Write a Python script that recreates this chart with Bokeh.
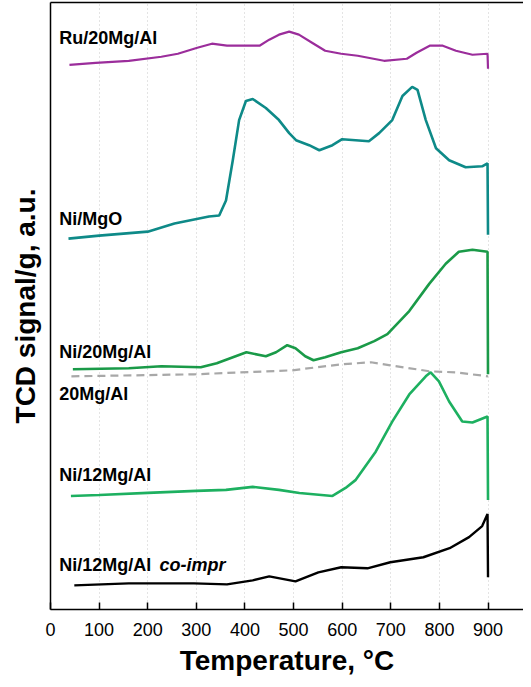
from bokeh.plotting import figure
from bokeh.models import LinearAxis, FixedTicker, Range1d
from bokeh.core.properties import value
from bokeh.embed import file_html
from bokeh.resources import INLINE

# ---- data (temperature in °C, TCD signal in arbitrary units, curves offset) ----
ru_T = [39, 93, 161, 228, 262, 302, 332, 363, 403, 430, 450, 470, 491, 511, 538, 565, 598, 632, 686, 733, 753, 780, 807, 834, 868, 899, 900]
ru_S = [542, 544, 546, 550, 553, 559, 563, 561, 561, 561, 567, 572, 575, 572, 564, 556, 553, 551, 546, 548, 554, 561, 561, 556, 552, 553, 538]

mgo_T = [37, 100, 200, 255, 326, 347, 361, 375, 388, 402, 416, 443, 470, 491, 505, 532, 553, 580, 600, 655, 676, 703, 724, 744, 755, 772, 793, 820, 854, 888, 899, 900]
mgo_S = [369, 372, 376, 384, 391, 392, 407, 447, 487, 506, 508, 499, 487, 474, 467, 462, 457, 462, 468, 466, 474, 487, 511, 520, 517, 487, 459, 447, 440, 441, 444, 373]

ni20_T = [46, 161, 228, 309, 342, 403, 443, 464, 487, 504, 524, 541, 565, 598, 632, 666, 693, 738, 779, 813, 840, 868, 899, 900]
ni20_S = [239, 240, 242, 241, 245, 256, 252, 256, 263, 260, 252, 248, 251, 256, 260, 267, 274, 297, 324, 344, 356, 358, 356, 234]

mg20_T = [43, 295, 497, 598, 659, 699, 780, 834, 900]
mg20_S = [232, 234, 238, 244, 246, 243, 237, 236, 232]

ni12_T = [42, 100, 200, 300, 361, 416, 470, 512, 580, 607, 628, 669, 703, 738, 772, 782, 799, 820, 847, 868, 899, 900]
ni12_S = [113, 114, 116, 118, 119, 122, 119, 116, 113, 121, 129, 157, 187, 214, 232, 236, 227, 207, 187, 186, 192, 109]

co_T = [49, 161, 295, 363, 416, 450, 504, 551, 598, 652, 699, 767, 821, 861, 888, 899, 900]
co_S = [24, 26, 26, 25, 29, 33, 28, 37, 42, 41, 47, 52, 61, 72, 83, 95, 32]

x_ticks = [0, 100, 200, 300, 400, 500, 600, 700, 800, 900]

labels = ["Ru/20Mg/Al", "Ni/MgO", "Ni/20Mg/Al", "20Mg/Al", "Ni/12Mg/Al", "Ni/12Mg/Al"]
label_T = [18, 18, 18, 18, 18, 18]
label_S = [569, 389, 256, 214, 134, 44]
italic_label = ["co-impr"]
italic_T = [224]
italic_S = [44]

FONT = "Liberation Sans"

p = figure(width=523, height=679, output_backend="svg", toolbar_location=None,
           x_range=Range1d(0, 973), y_range=Range1d(0, 604),
           min_border_left=50, min_border_top=2, min_border_right=0, min_border_bottom=70,
           x_axis_location=None, y_axis_location=None)
p.outline_line_color = None
p.background_fill_color = "white"
p.border_fill_color = "white"

# axes
xa = LinearAxis(ticker=FixedTicker(ticks=x_ticks), axis_label="Temperature, °C")
xa.axis_line_color = "black"
xa.axis_line_width = 1.5
xa.major_tick_in = 7
xa.major_tick_out = 0
xa.major_tick_line_width = 1.5
xa.minor_tick_line_color = None
xa.major_label_text_font = FONT
xa.major_label_text_font_size = "18px"
xa.major_label_text_color = "black"
xa.major_label_standoff = 13
xa.axis_label_text_font = FONT
xa.axis_label_text_font_style = "bold"
xa.axis_label_text_font_size = "28px"
xa.axis_label_text_color = "black"
xa.axis_label_standoff = 6
p.add_layout(xa, "below")

ya = LinearAxis(ticker=FixedTicker(ticks=[]), axis_label="TCD signal/g, a.u.")
ya.axis_line_color = "black"
ya.axis_line_width = 1.5
ya.major_tick_line_color = None
ya.minor_tick_line_color = None
ya.major_label_text_font_size = "0px"
ya.axis_label_text_font = FONT
ya.axis_label_text_font_style = "bold"
ya.axis_label_text_font_size = "28px"
ya.axis_label_text_color = "black"
ya.axis_label_standoff = 10
p.add_layout(ya, "left")

# top frame line (an axis with no ticks or labels)
ta = LinearAxis(ticker=FixedTicker(ticks=[]))
ta.axis_line_color = "black"
ta.axis_line_width = 1.5
ta.major_tick_line_color = None
ta.minor_tick_line_color = None
ta.major_tick_in = 0
ta.major_tick_out = 0
ta.minor_tick_in = 0
ta.minor_tick_out = 0
ta.major_label_text_font_size = "0px"
ta.major_label_standoff = 0
p.add_layout(ta, "above")

# grid
p.xgrid.ticker = FixedTicker(ticks=x_ticks)
p.xgrid.grid_line_color = "#c8c8c8"
p.xgrid.grid_line_dash = "1 3"
p.xgrid.grid_line_width = 1
p.ygrid.grid_line_color = None

# curves
p.line(ru_T, ru_S, line_color="#9b2d9b", line_width=2.2)
p.line(mgo_T, mgo_S, line_color="#0e8a88", line_width=2.6)
p.line(ni20_T, ni20_S, line_color="#1a9a48", line_width=2.6)
p.line(mg20_T, mg20_S, line_color="#a8a8a8", line_width=2.2, line_dash="8 5")
p.line(ni12_T, ni12_S, line_color="#1db060", line_width=2.6)
p.line(co_T, co_S, line_color="black", line_width=2.4)

# labels
p.text(x=label_T, y=label_S, text=labels, text_font=value(FONT), text_font_style="bold",
       text_font_size="18px", text_baseline="middle", text_align="left", text_color="black")
p.text(x=italic_T, y=italic_S, text=italic_label, text_font=value(FONT), text_font_style="bold italic",
       text_font_size="18px", text_baseline="middle", text_align="left", text_color="black")

open("out.html", "w").write(file_html(p, INLINE))
